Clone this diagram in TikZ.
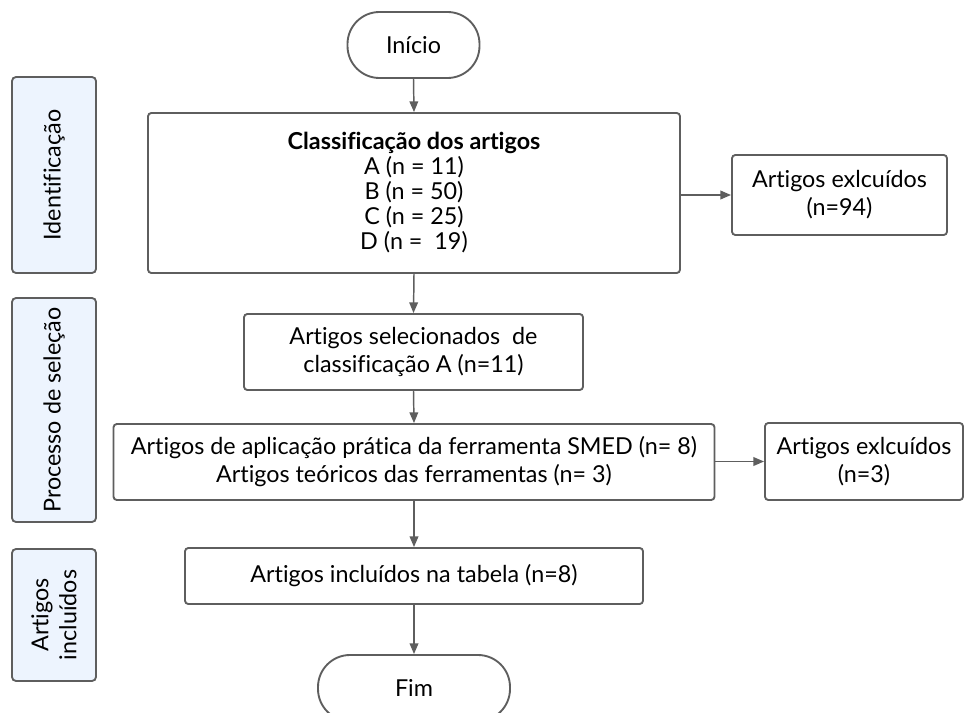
\documentclass[tikz,border=0pt]{standalone}
\usepackage{fontspec}
\setmainfont{Lato}[Ligatures=NoCommon]
\usetikzlibrary{arrows.meta}
\definecolor{edge}{HTML}{5E5E5E}
\definecolor{stagefill}{HTML}{EDF4FE}
\begin{document}
\begin{tikzpicture}[x=0.75pt,y=-0.75pt,
  font=\fontsize{17.5}{21}\selectfont,
  box/.style={draw=edge,line width=1.4pt,rounded corners=2.5pt,fill=white,align=center,inner sep=0pt},
  term/.style={draw=edge,line width=1.4pt,rounded corners=24pt,fill=white,align=center,inner sep=0pt,minimum width=99pt,minimum height=49.5pt},
  stage/.style={draw=edge,line width=1.4pt,rounded corners=3pt,fill=stagefill,align=center,inner sep=0pt,rotate=90,minimum height=63pt},
  flow/.style={draw=edge,line width=1.1pt,-{Triangle[length=8pt,width=6.5pt]}}]
\useasboundingbox (0,0) rectangle (964,713);

% stage labels on the left
\node[stage,minimum width=147pt] (sIdent) at (54,175) {Identificação};
\node[stage,minimum width=168pt] (sSel) at (54,410) {Processo de seleção};
\node[stage,minimum width=99pt] (sIncl) at (54,615) {Artigos\\incluídos};

% main flow
\node[term] (inicio) at (413.5,45) {Início};
\node[box,minimum width=399pt,minimum height=120pt,font=\fontsize{17.5}{18.75}\selectfont] (classif) at (414,193)
  {\textbf{Classificação dos artigos}\\A (n = 11)\\B (n = 50)\\C (n = 25)\\D (n =\ \ 19)};
\node[box,minimum width=161.25pt,minimum height=60pt] (excl1) at (839.5,195) {Artigos exlcuídos\\(n=94)};
\node[box,minimum width=254.25pt,minimum height=57pt] (selec) at (413.5,352) {Artigos selecionados\ \ de\\classificação A (n=11)};
\node[box,minimum width=450.75pt,minimum height=57pt] (smed) at (414,462)
  {Artigos de aplicação prática da ferramenta SMED (n= 8)\\Artigos teóricos das ferramentas (n= 3)};
\node[box,minimum width=148.5pt,minimum height=57.75pt] (excl2) at (864,461.5) {Artigos exlcuídos\\(n=3)};
\node[box,minimum width=343.5pt,minimum height=42pt] (incl) at (414,576) {Artigos incluídos na tabela (n=8)};
\node[term,minimum width=144pt] (fim) at (414,688) {Fim};

% connectors
\draw[flow] (inicio.south) -- (classif.north);
\draw[flow] (classif.east |- excl1.west) -- (excl1.west);
\draw[flow] (classif.south) -- (selec.north);
\draw[flow] (selec.south) -- (smed.north);
\draw[flow] (smed.east |- excl2.west) -- (excl2.west);
\draw[flow] (smed.south) -- (incl.north);
\draw[flow] (incl.south) -- (fim.north);
\end{tikzpicture}
\end{document}
